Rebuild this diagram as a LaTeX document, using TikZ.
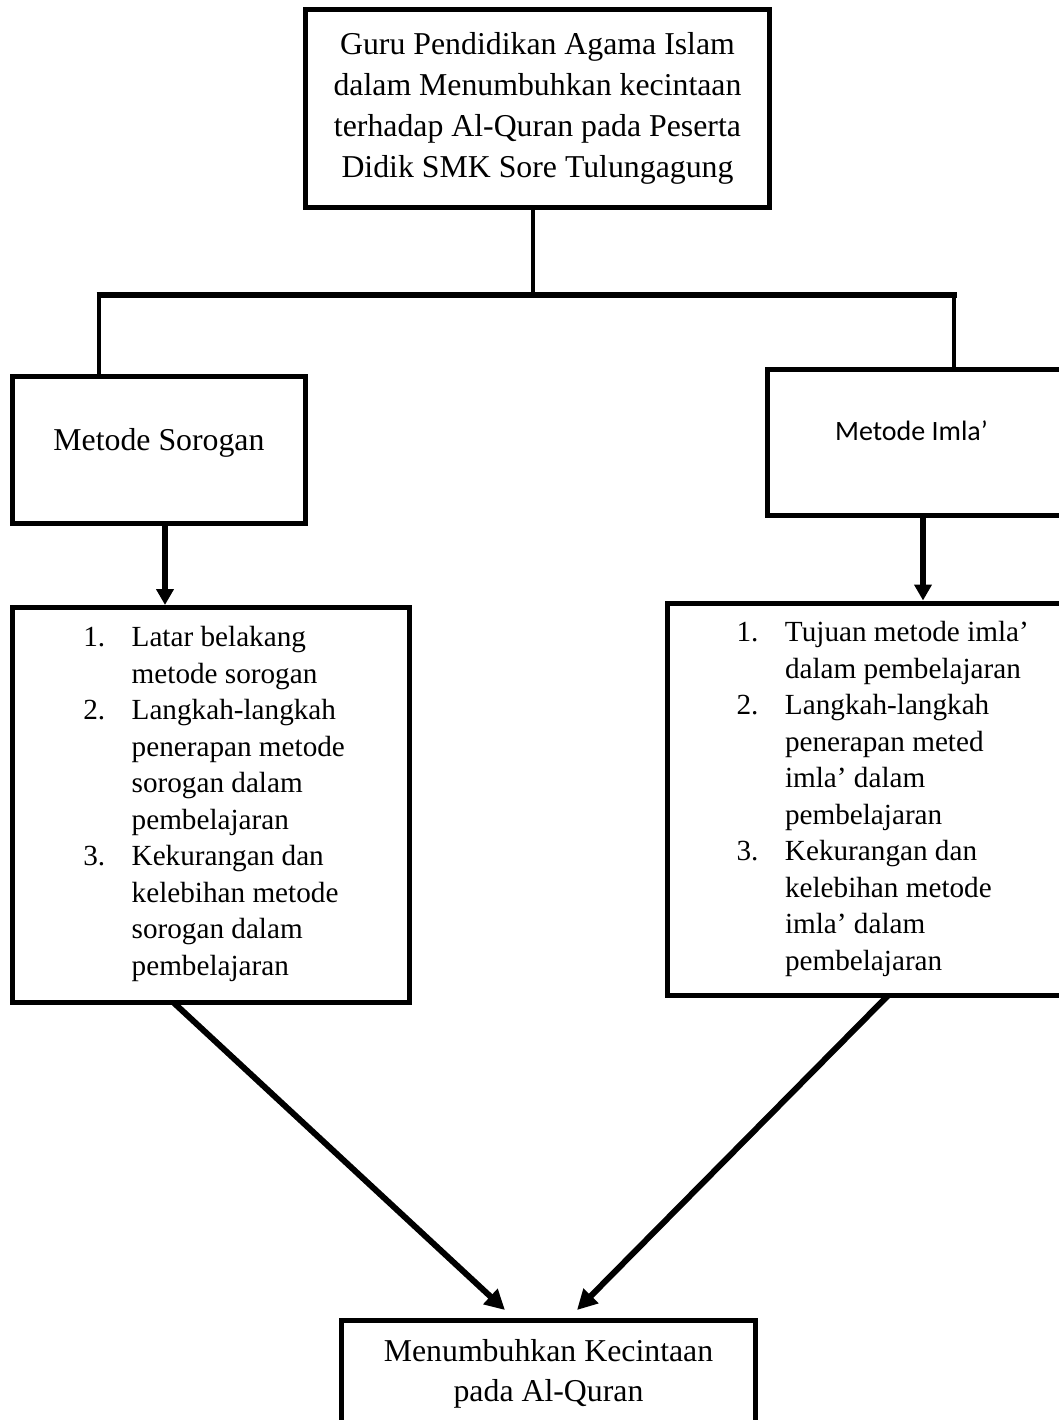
\documentclass[tikz,border=0pt]{standalone}
\usepackage{fontspec}
\setmainfont{Liberation Serif}
\newfontfamily\carlito{Carlito}
\usetikzlibrary{arrows.meta,calc}
\newcommand\mybox[5]{\parbox[c][#2][t]{#1}{#4\rule{0pt}{#3}#5}}
\newcommand\itemnum[1]{\leavevmode\llap{\makebox[48.4pt][l]{#1}}}
\begin{document}
\begin{tikzpicture}[x=1pt,y=-1pt,
  box/.style={draw, line width=5pt, inner sep=0pt, outer sep=0pt, anchor=north west},
  bigtext/.style={font={\fontsize{31.8pt}{41pt}\selectfont}},
  listtext/.style={font={\fontsize{29.2pt}{36.5pt}\selectfont}},
  conn/.style={line width=4.5pt},
  barline/.style={line width=6pt},
  arr/.style={line width=5.5pt, -{Triangle[length=16pt,width=17pt]}},
  darr/.style={line width=6pt, -{Triangle[length=20pt,width=20pt]}}]
\fill[white] (0,0) rectangle (1058,1420);
\useasboundingbox (0,0) rectangle (1058,1420);

\node[box,bigtext] (top) at (305.5,9.5) {\mybox{464pt}{198pt}{45.2pt}{\centering}{Guru Pendidikan Agama Islam\\dalam Menumbuhkan kecintaan\\terhadap Al-Quran pada Peserta\\Didik SMK Sore Tulungagung}};

\node[box,bigtext] (sorogan) at (12.5,376.5) {\mybox{293pt}{147pt}{73.5pt}{\centering}{Metode Sorogan}};

\node[box] (imla) at (767.5,369.5) {\mybox{293.5pt}{146pt}{70.5pt}{\centering\carlito\fontsize{28pt}{34pt}\selectfont}{Metode Imla’\hspace*{5.5pt}}};

\node[box,listtext] (list1) at (12.5,607.5) {\mybox{397pt}{395pt}{39.2pt}{\raggedright\leftskip=119.2pt\relax}{\itemnum{1.}Latar belakang\\metode sorogan\\\itemnum{2.}Langkah-langkah\\penerapan metode\\sorogan dalam\\pembelajaran\\\itemnum{3.}Kekurangan dan\\kelebihan metode\\sorogan dalam\\pembelajaran}};

\node[box,listtext] (list2) at (667.5,603.5) {\mybox{394.5pt}{392pt}{38.2pt}{\raggedright\leftskip=117.5pt\relax}{\itemnum{1.}Tujuan metode imla’\\dalam pembelajaran\\\itemnum{2.}Langkah-langkah\\penerapan meted\\imla’ dalam\\pembelajaran\\\itemnum{3.}Kekurangan dan\\kelebihan metode\\imla’ dalam\\pembelajaran}};

\node[box,font={\fontsize{31.8pt}{40pt}\selectfont}] (final) at (341.5,1320.5) {\mybox{414pt}{130pt}{41.2pt}{\centering}{Menumbuhkan Kecintaan\\pada Al-Quran}};

% tree connectors
\coordinate (barL) at (99,295);
\coordinate (barR) at (954,295);
\coordinate (topdrop) at ($(top.south)+(-4.5,0)$);
\draw[conn] (topdrop) -- (topdrop |- barL);
\draw[barline] ($(barL)+(-2.5,0)$) -- ($(barR)+(2.5,0)$);
\draw[conn] (barL) -- (barL |- sorogan.north);
\draw[conn] (barR) -- (barR |- imla.north);

% vertical arrows
\coordinate (a1) at ($(sorogan.south)+(6,0)$);
\draw[arr] (a1) -- ($(a1 |- list1.north)+(0,-2.5)$);
\coordinate (a2) at ($(imla.south)+(8.75,0)$);
\draw[arr] (a2) -- ($(a2 |- list2.north)+(0,-3)$);

% diagonal arrows
\draw[darr] ($(list1.south west)+(161,0)$) -- ($(final.north west)+(163.5,-10.5)$);
\draw[darr] ($(list2.south west)+(220.5,0)$) -- ($(final.north west)+(235.5,-10.5)$);
\end{tikzpicture}
\end{document}
